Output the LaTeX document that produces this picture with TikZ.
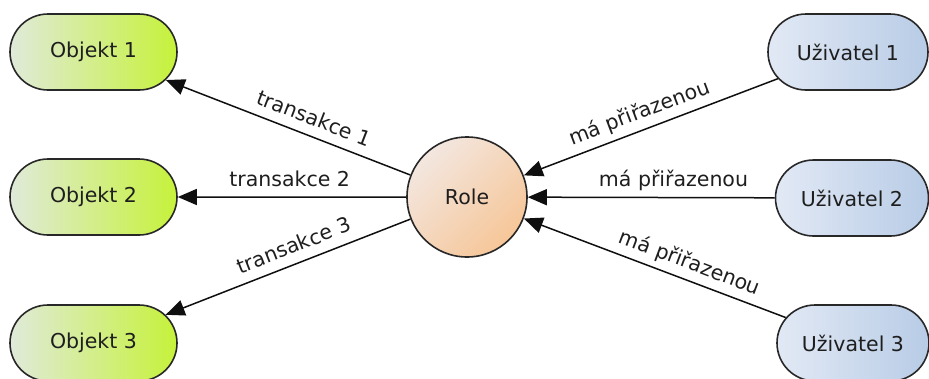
\documentclass[tikz,border=0pt]{standalone}
\usepackage{fontspec}
\setmainfont{DejaVu Sans}
\usetikzlibrary{arrows.meta,shapes.misc}

\definecolor{objL}{RGB}{224,234,218}
\definecolor{objR}{RGB}{198,242,58}
\definecolor{usrL}{RGB}{226,233,245}
\definecolor{usrR}{RGB}{184,204,230}
\definecolor{roleA}{RGB}{243,231,224}
\definecolor{roleB}{RGB}{246,198,152}
\definecolor{edge}{RGB}{40,40,40}
\definecolor{wire}{RGB}{15,15,15}
\definecolor{ink}{RGB}{30,30,30}

\tikzset{
  every node/.style={font=\fontsize{20.5}{24}\selectfont, text=ink},
  pill/.style={rounded rectangle, draw=edge, line width=1.6pt,
    minimum height=76pt, inner sep=0pt},
  objbox/.style={pill, minimum width=167pt, left color=objL, right color=objR},
  usrbox/.style={pill, left color=usrL, right color=usrR},
  rolebox/.style={circle, draw=edge, line width=1.6pt, minimum size=120pt,
    inner sep=0pt, top color=roleA, bottom color=roleB, shading angle=45},
  conn/.style={draw=wire, line width=1.5pt,
    arrows={Triangle[length=19pt,width=16pt]-}},
  lbl/.style={sloped, above=10pt, inner sep=0pt, text depth=0pt}
}

\begin{document}
\begin{tikzpicture}[x=1pt,y=-1pt]
  \useasboundingbox (0,0) rectangle (929,378);

  % objects on the left
  \node[objbox] (o1) at (93.5,52) {Objekt 1};
  \node[objbox] (o2) at (93.5,197) {Objekt 2};
  \node[objbox] (o3) at (93.5,343) {Objekt 3};

  % the role in the middle
  \node[rolebox] (role) at (467,197) {Role};

  % users on the right
  \node[usrbox, minimum width=160pt] (u1) at (848,52) {Uživatel 1};
  \node[usrbox, minimum width=153pt] (u2) at (852,198) {Uživatel 2};
  \node[usrbox, minimum width=152pt] (u3) at (853,343) {Uživatel 3};

  % transactions from the role to the objects
  \draw[conn] (o1) -- node[lbl, pos=0.58] {transakce 1} (role);
  \draw[conn] (o2) -- node[lbl, pos=0.49] {transakce 2} (role);
  \draw[conn] (o3) -- node[lbl, pos=0.55] {transakce 3} (role);

  % users assigned to the role
  \draw[conn] (role) -- node[lbl, pos=0.48] {má přiřazenou} (u1);
  \draw[conn] (role) -- node[lbl, pos=0.59] {má přiřazenou} (u2);
  \draw[conn] (role) -- node[lbl, pos=0.61] {má přiřazenou} (u3);
\end{tikzpicture}
\end{document}
